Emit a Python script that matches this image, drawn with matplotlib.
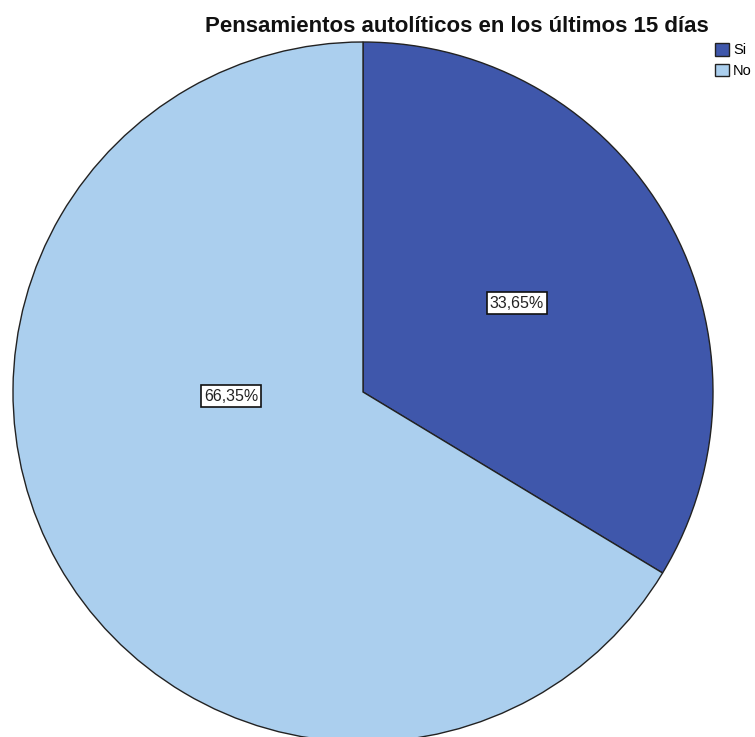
import matplotlib.pyplot as plt
from matplotlib.patches import Patch

plt.rcParams['font.family'] = ['Liberation Sans', 'DejaVu Sans']

# Data
labels = ['Si', 'No']
shares = [33.65, 66.35]
colors = ['#3f57ab', '#abcfee']
pct_labels = ['33,65%', '66,35%']

W, H = 755, 737
fig = plt.figure(figsize=(W / 100, H / 100), dpi=100)
ax = fig.add_axes([0, 0, 1, 1])

cx, cy, r = 363, H - 392, 350
wedges, _ = ax.pie(shares, colors=colors, startangle=90, counterclock=False,
                   radius=r, center=(cx, cy), frame=True,
                   wedgeprops=dict(edgecolor='#222222', linewidth=1.0))

# SPSS-style percentage boxes
label_pos = [(517, H - 303), (231, H - 396)]
for txt, (x, y) in zip(pct_labels, label_pos):
    ax.text(x, y, txt, ha='center', va='center', fontsize=11.5, color='#222222',
            bbox=dict(boxstyle='square,pad=0.2', facecolor='white',
                      edgecolor='#111111', linewidth=1.2))

ax.set_xlim(0, W)
ax.set_ylim(0, H)
ax.set_aspect('auto')
ax.axis('off')

fig.text(457 / W, 1 - 26 / H, 'Pensamientos autolíticos en los últimos 15 días',
         ha='center', va='center', fontsize=16, fontweight='bold', color='#111111')

handles = [Patch(facecolor=c, edgecolor='#222222', linewidth=1.0) for c in colors]
fig.legend(handles, labels, loc='upper left', bbox_to_anchor=(715 / W, 1 - 43 / H),
           frameon=False, fontsize=10.5, handlelength=0.95, handleheight=0.95,
           handletextpad=0.3, labelspacing=0.45, borderpad=0, borderaxespad=0)

fig.savefig('out.png', dpi=100)
